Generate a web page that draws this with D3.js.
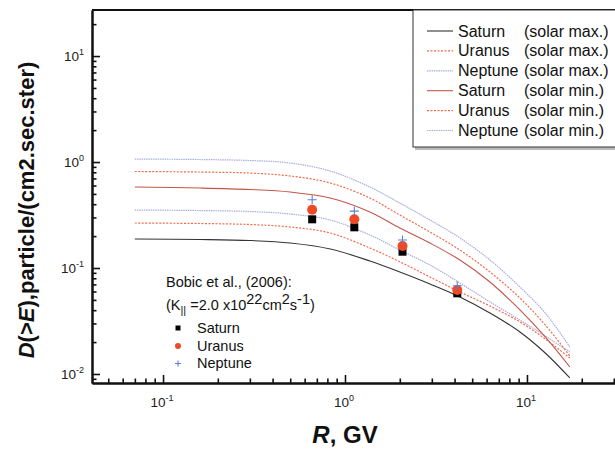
<!DOCTYPE html>
<html><head><meta charset="utf-8">
<script src="https://cdn.jsdelivr.net/npm/d3@7"></script>
<style>
body{margin:0;background:#fff;}
svg{display:block;font-family:"Liberation Sans",Arial,sans-serif;}
</style></head>
<body>
<svg id="c" width="615" height="450"></svg>
<script>
// ---- data ----
const rigidity = [0.07, 0.16, 0.30, 0.50, 0.83, 1.37, 2.0, 2.93, 4.28, 6.26, 9.15, 12.6, 17.2];
const saturnMax  = [0.1878, 0.1858, 0.1817, 0.1721, 0.1511, 0.1164, 0.0917, 0.0707, 0.0533, 0.0376, 0.0249, 0.01578, 0.00917];
const uranusMax  = [0.2658, 0.2630, 0.2573, 0.2436, 0.2139, 0.1544, 0.1146, 0.0823, 0.0594, 0.0438, 0.0310, 0.0214, 0.01416];
const neptuneMax = [0.3524, 0.3486, 0.3412, 0.3231, 0.2836, 0.2048, 0.1478, 0.1067, 0.0722, 0.0478, 0.0323, 0.02283, 0.01612];
const saturnMin  = [0.581, 0.568, 0.550, 0.521, 0.457, 0.3376, 0.2384, 0.172, 0.119, 0.0738, 0.0402, 0.02234, 0.01164];
const uranusMin  = [0.814, 0.805, 0.787, 0.738, 0.634, 0.457, 0.316, 0.2186, 0.1478, 0.0917, 0.0521, 0.0290, 0.01478];
const neptuneMin = [1.067, 1.056, 1.033, 0.979, 0.822, 0.581, 0.410, 0.284, 0.192, 0.119, 0.0662, 0.0376, 0.0180];

const obsR       = [0.66, 1.125, 2.07, 4.14];
const obsSaturn  = [0.288, 0.242, 0.1425, 0.0577];
const obsUranus  = [0.355, 0.288, 0.161, 0.062];
const obsNeptune = [0.440, 0.344, 0.184, 0.068];

const xMajor = [0.1, 1, 10];
const xMajorExp = ["-1", "0", "1"];
const xMinor = [0.05,0.06,0.07,0.08,0.09,0.2,0.3,0.4,0.5,0.6,0.7,0.8,0.9,2,3,4,5,6,7,8,9,20,30,40];
const yMajor = [0.01, 0.1, 1, 10];
const yMajorExp = ["-2", "-1", "0", "1"];
const yMinor = [0.009,0.02,0.03,0.04,0.05,0.06,0.07,0.08,0.09,0.2,0.3,0.4,0.5,0.6,0.7,0.8,0.9,2,3,4,5,6,7,8,9,20];

const legendNames = ["Saturn", "Uranus", "Neptune", "Saturn", "Uranus", "Neptune"];
const legendPhase = ["(solar max.)", "(solar max.)", "(solar max.)", "(solar min.)", "(solar min.)", "(solar min.)"];
const obsNames = ["Saturn", "Uranus", "Neptune"];

// ---- styles ----
const seriesList = [
  {v: saturnMax,  color: "#333333", dash: null,    w: 1.1},
  {v: uranusMax,  color: "#f26a4c", dash: "2,1.5", w: 1.2},
  {v: neptuneMax, color: "#a9ade0", dash: "1.5,0.8", w: 1.2},
  {v: saturnMin,  color: "#c4554a", dash: null,    w: 1.1},
  {v: uranusMin,  color: "#f26a4c", dash: "2,1.5", w: 1.2},
  {v: neptuneMin, color: "#a9ade0", dash: "1.5,0.8", w: 1.2}
];

const svg = d3.select("#c");
const L = 92, T = 10, B = 383, Rgt = 640;
const x = d3.scaleLog().domain([0.0407, 41.8]).range([L, Rgt]);
const y = d3.scaleLog().domain([0.00822, 27.2]).range([B, T]);

// lines
const line = d3.line().x(d => x(d[0])).y(d => y(d[1])).curve(d3.curveCatmullRom.alpha(0.5));
seriesList.forEach(s => {
  svg.append("path")
    .attr("d", line(rigidity.map((r, i) => [r, s.v[i]])))
    .attr("fill", "none").attr("stroke", s.color).attr("stroke-width", s.w)
    .attr("stroke-dasharray", s.dash);
});

// observation markers
function square(g, cx, cy, s) {
  g.append("rect").attr("x", cx - s/2).attr("y", cy - s/2).attr("width", s).attr("height", s).attr("fill", "#000");
}
function dot(g, cx, cy, r) {
  g.append("circle").attr("cx", cx).attr("cy", cy).attr("r", r).attr("fill", "#ee4a25");
}
function plus(g, cx, cy, s) {
  g.append("path").attr("d", `M${cx - s/2},${cy}H${cx + s/2}M${cx},${cy - s/2}V${cy + s/2}`)
    .attr("stroke", "#5a7fd4").attr("stroke-width", 1.1).attr("fill", "none");
}
const mg = svg.append("g");
obsR.forEach((r, i) => square(mg, x(r), y(obsSaturn[i]), 8));
obsR.forEach((r, i) => dot(mg, x(r), y(obsUranus[i]), 5));
obsR.forEach((r, i) => plus(mg, x(r), y(obsNeptune[i]), 9));

// axes
const axisStyle = g => {
  g.select(".domain").attr("stroke", "#111").attr("stroke-width", 2);
  g.selectAll(".tick line").attr("stroke", "#111").attr("stroke-width", 1.6);
};
svg.append("g").attr("transform", `translate(0,${B})`)
  .call(d3.axisBottom(x).tickValues(xMajor).tickSizeInner(-8).tickSizeOuter(0).tickFormat(""))
  .call(axisStyle);
svg.append("g").attr("transform", `translate(0,${B})`)
  .call(d3.axisBottom(x).tickValues(xMinor).tickSizeInner(-4.5).tickSizeOuter(0).tickFormat(""))
  .call(axisStyle);
svg.append("g").attr("transform", `translate(${L},0)`)
  .call(d3.axisLeft(y).tickValues(yMajor).tickSizeInner(-8).tickSizeOuter(0).tickFormat(""))
  .call(axisStyle);
svg.append("g").attr("transform", `translate(${L},0)`)
  .call(d3.axisLeft(y).tickValues(yMinor).tickSizeInner(-4.5).tickSizeOuter(0).tickFormat(""))
  .call(axisStyle);
// top frame
svg.append("line").attr("x1", L).attr("x2", Rgt).attr("y1", T).attr("y2", T).attr("stroke", "#111").attr("stroke-width", 2);

// tick labels
xMajor.forEach((v, i) => {
  const t = svg.append("text").attr("x", x(v) - 1).attr("y", 407).attr("text-anchor", "middle")
    .attr("font-size", 13.5).attr("fill", "#222");
  t.append("tspan").text("10");
  t.append("tspan").attr("dy", -6).attr("font-size", 9).text(xMajorExp[i]);
});
yMajor.forEach((v, i) => {
  const t = svg.append("text").attr("x", 84).attr("y", y(v) + 5).attr("text-anchor", "end")
    .attr("font-size", 13.5).attr("fill", "#222");
  t.append("tspan").text("10");
  t.append("tspan").attr("dy", -6).attr("font-size", 9).text(yMajorExp[i]);
});

// axis titles
const yt = svg.append("text").attr("transform", "translate(34,210) rotate(-90)")
  .attr("text-anchor", "middle").attr("font-size", 22).attr("font-weight", "bold").attr("fill", "#111");
yt.append("tspan").attr("font-style", "italic").text("D");
yt.append("tspan").text("(>");
yt.append("tspan").attr("font-style", "italic").text("E");
yt.append("tspan").text("),particle/(cm2.sec.ster)");

const xt = svg.append("text").attr("x", 345).attr("y", 443).attr("text-anchor", "middle")
  .attr("font-size", 24).attr("font-weight", "bold").attr("fill", "#111");
xt.append("tspan").attr("font-style", "italic").text("R");
xt.append("tspan").text(", GV");

// legend box
const lg = svg.append("g");
lg.append("rect").attr("x", 415).attr("y", 12).attr("width", 220).attr("height", 138).attr("fill", "#bbb");
lg.append("rect").attr("x", 413).attr("y", 10).attr("width", 220).attr("height", 137)
  .attr("fill", "#fff").attr("stroke", "#333").attr("stroke-width", 1);
legendNames.forEach((n, i) => {
  const yy = 31 + i * 19.9;
  const s = seriesList[i];
  lg.append("line").attr("x1", 427).attr("x2", 453).attr("y1", yy).attr("y2", yy)
    .attr("stroke", s.color).attr("stroke-width", s.w).attr("stroke-dasharray", s.dash);
  lg.append("text").attr("x", 458).attr("y", yy + 5.5).attr("font-size", 16).attr("fill", "#111").text(n);
  lg.append("text").attr("x", 524).attr("y", yy + 5.5).attr("font-size", 16).attr("fill", "#111").text(legendPhase[i]);
});

// annotation
svg.append("text").attr("x", 166).attr("y", 287).attr("font-size", 14.5).attr("fill", "#111").text("Bobic et al., (2006):");
const k = svg.append("text").attr("x", 166).attr("y", 310).attr("font-size", 14.5).attr("fill", "#111");
k.append("tspan").text("(K");
k.append("tspan").attr("dy", 4).attr("font-size", 11).text("||");
k.append("tspan").attr("dy", -4).text(" =2.0 x10");
k.append("tspan").attr("dy", -6).attr("font-size", 14.5).text("22");
k.append("tspan").attr("dy", 6).text("cm");
k.append("tspan").attr("dy", -6).text("2");
k.append("tspan").attr("dy", 6).text("s");
k.append("tspan").attr("dy", -6).text("-1");
k.append("tspan").attr("dy", 6).text(")");

const og = svg.append("g");
square(og, 178, 328, 5);
dot(og, 178, 346, 3);
plus(og, 178, 363.5, 6);
obsNames.forEach((n, i) => {
  og.append("text").attr("x", 197).attr("y", 333 + i * 17.7).attr("font-size", 14.5).attr("fill", "#111").text(n);
});
</script>
</body></html>
